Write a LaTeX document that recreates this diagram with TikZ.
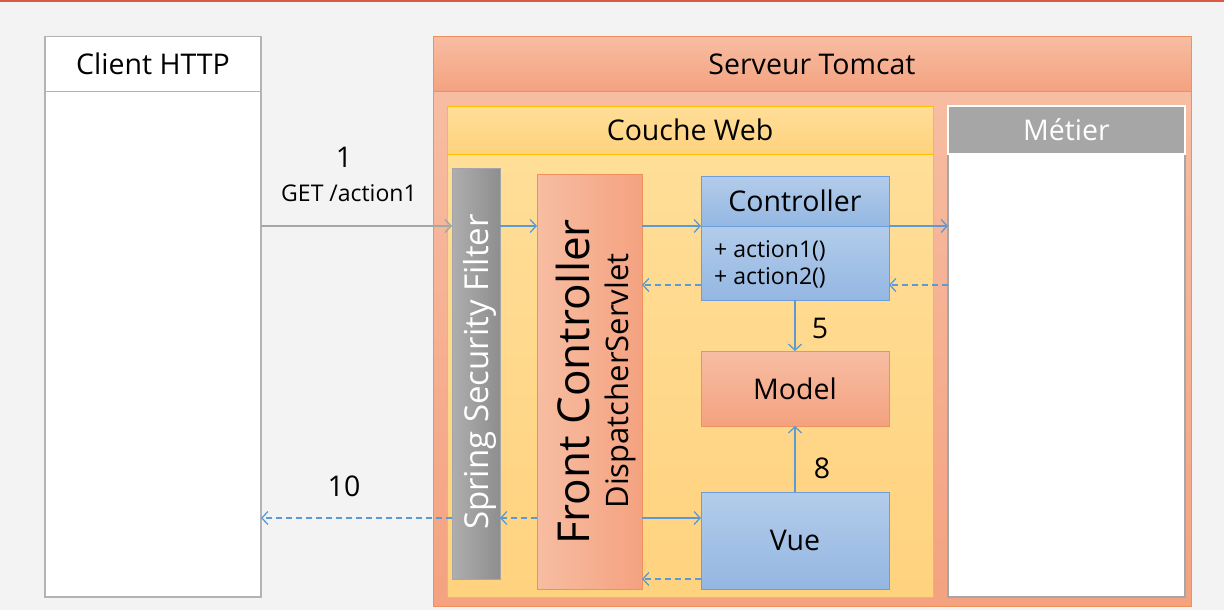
\documentclass[tikz,border=0pt]{standalone}
\usepackage{fontspec}
\setmainfont{Open Sans}
\usetikzlibrary{arrows.meta,calc}
\definecolor{bg}{HTML}{F3F3F3}
\definecolor{topline}{HTML}{D95B43}
\definecolor{orangeborder}{HTML}{F0905C}
\definecolor{salmonA}{HTML}{F7BDA2}
\definecolor{salmonB}{HTML}{F4A280}
\definecolor{goldborder}{HTML}{FFC000}
\definecolor{yellowA}{HTML}{FFDE98}
\definecolor{yellowB}{HTML}{FFD27E}
\definecolor{grayA}{HTML}{AEAEAE}
\definecolor{grayB}{HTML}{8E8E8E}
\definecolor{grayborder}{HTML}{A6A6A6}
\definecolor{blueA}{HTML}{B3CCEA}
\definecolor{blueB}{HTML}{94B7E2}
\definecolor{blueborder}{HTML}{6C9FDA}
\definecolor{arrowblue}{HTML}{5B9BD5}
\definecolor{clientborder}{HTML}{B3B3B3}
\begin{document}
\begin{tikzpicture}[x=1pt,y=-1pt,
  box/.style={draw, inner sep=0pt, outer sep=0pt, line width=1pt},
  salmonv/.style={box, draw=orangeborder, top color=salmonA, bottom color=salmonB},
  salmonh/.style={box, draw=orangeborder, left color=salmonA, right color=salmonB},
  yellowv/.style={box, draw=goldborder, top color=yellowA, bottom color=yellowB},
  bluev/.style={box, draw=blueborder, top color=blueA, bottom color=blueB},
  big/.style={font=\fontsize{28.5}{33}\selectfont},
  mid/.style={font=\fontsize{23}{27}\selectfont},
  flow/.style={draw=arrowblue, line width=1.3pt, -{Straight Barb[length=6pt,width=13pt,line width=1.3pt]}},
  ret/.style={flow, dash pattern=on 6pt off 4pt},
  grayflow/.style={draw=grayborder, line width=2pt, -{Straight Barb[length=6pt,width=13pt,line width=1.5pt]}}
]
\useasboundingbox (0,0) rectangle (1224,610);
\fill[bg] (0,0) rectangle (1224,610);
\fill[topline] (0,0) rectangle (1224,2);

% Client
\node[box, draw=clientborder, fill=white, line width=1.5pt, minimum width=216pt, minimum height=506pt] (clientbody) at (153,344) {};
\node[box, draw=clientborder, fill=white, line width=1.5pt, minimum width=216pt, minimum height=55pt, big] (clienthead) at (153,64) {Client HTTP};

% Tomcat
\node[salmonv, minimum width=758pt, minimum height=515pt] (tomcatbody) at (812,348.5) {};
\node[salmonv, minimum width=758pt, minimum height=55pt, big] (tomcathead) at (812,64) {Serveur Tomcat};

% Couche Web
\node[yellowv, minimum width=486pt, minimum height=443pt] (webbody) at (690,375.5) {};
\node[yellowv, minimum width=486pt, minimum height=48pt, big] (webhead) at (690,130) {Couche Web};

% Metier
\node[box, draw=grayborder, fill=white, line width=1.5pt, minimum width=237pt, minimum height=443pt] (metbody) at (1066.5,375.5) {};
\node[box, draw=white, fill=grayborder, line width=2pt, minimum width=237pt, minimum height=48pt, big, text=white] (methead) at (1066.5,130) {Métier};

% Spring Security Filter
\node[box, draw=grayborder, left color=grayA, right color=grayB, minimum width=48pt, minimum height=411pt] (filter) at (476,373.5) {};
\node[rotate=90, text=white, inner sep=0pt, font=\fontsize{33}{38}\selectfont] (filtertext) at (480,372) {Spring Security Filter};

% Front Controller
\node[salmonh, minimum width=105pt, minimum height=415pt] (fc) at (589.5,381.5) {};
\node[rotate=90, inner sep=0pt, font=\fontsize{44}{50}\selectfont] (fctext) at (573,382) {Front Controller};
\node[rotate=90, inner sep=0pt, font=\fontsize{31}{36}\selectfont] (fcsub) at (620,381) {DispatcherServlet};

% Controller
\node[bluev, minimum width=188pt, minimum height=75pt] (ctrlbody) at (795,262.5) {};
\node[bluev, minimum width=188pt, minimum height=50pt, big] (ctrlhead) at (795,201) {Controller};
\node[mid, align=left, anchor=west, inner sep=0pt] (ctrltext) at (714,264.5) {+ action1()\\+ action2()};

% Model
\node[salmonv, minimum width=188pt, minimum height=75pt, big] (model) at (795,388.5) {Model};

% Vue
\node[bluev, minimum width=188pt, minimum height=97pt, big] (vue) at (795,540.5) {Vue};

% Helper coordinates
\coordinate (r1) at ([yshift=15pt]ctrlbody.south east);
\coordinate (r2) at ([yshift=15pt]ctrlbody.south west);
\coordinate (v1) at ([yshift=22.5pt]vue.west);
\coordinate (v2) at ([yshift=10pt]vue.south west);

% Connectors
\draw[grayflow] (clientbody.east |- ctrlhead.south) -- (filter.west |- ctrlhead.south);
\draw[flow] (filter.east |- ctrlhead.south) -- (fc.west |- ctrlhead.south);
\draw[flow] (fc.east |- ctrlhead.south) -- (ctrlhead.south west);
\draw[flow] (ctrlhead.south east) -- (metbody.west |- ctrlhead.south);
\draw[ret] (metbody.west |- r1) -- (r1);
\draw[ret] (r2) -- (fc.east |- r2);
\draw[flow] (ctrlbody.south) -- (model.north);
\draw[flow] (vue.north) -- (model.south);
\draw[flow] (fc.east |- v1) -- (v1);
\draw[ret] (fc.west |- v1) -- (filter.east |- v1);
\draw[ret] (filter.west |- v1) -- (clientbody.east |- v1);
\draw[ret] (v2) -- (fc.east |- v2);

% Labels
\node[big] (l1) at (344,157) {1};
\node[mid] (lget) at (349,193) {GET /action1};
\node[big] (l10) at (344,486) {10};
\node[big] (l5) at (820,328) {5};
\node[big] (l8) at (822,468) {8};
\end{tikzpicture}
\end{document}
